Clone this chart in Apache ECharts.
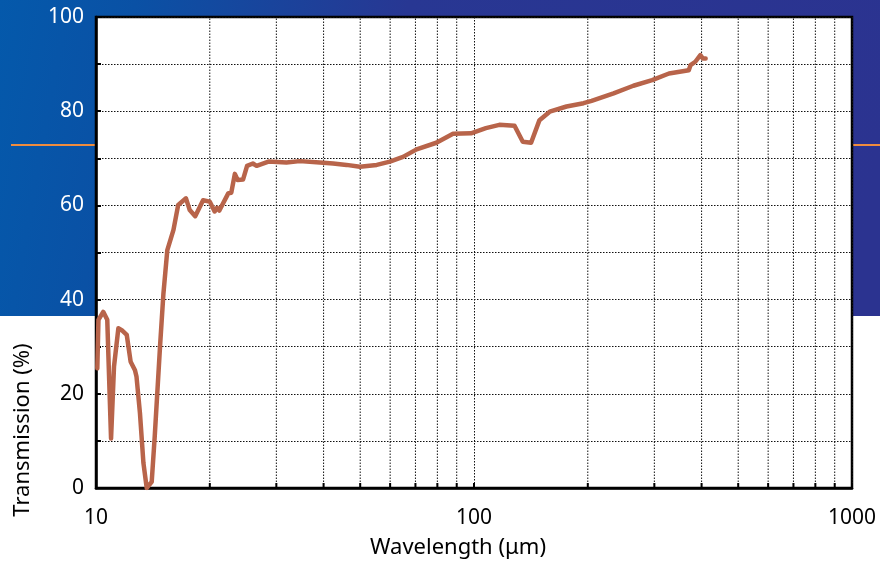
<!DOCTYPE html>
<html>
<head>
<meta charset="utf-8">
<script src="https://cdn.jsdelivr.net/npm/echarts@6/dist/echarts.min.js"></script>
<style>
html,body{margin:0;padding:0;background:#fff;}
#chart{width:880px;height:562px;}
</style>
</head>
<body>
<div id="chart"></div>
<script>
// Wavelength in micrometres (log x axis)
var wavelength = [10.08, 10.15, 10.45, 10.71, 10.96, 11.16, 11.46, 11.7, 12.06, 12.35, 12.68, 12.8, 13.07, 13.35, 13.62, 14.04, 14.3, 14.77, 15.08, 15.44, 16.03, 16.5, 17.3, 17.7, 18.3, 19.2, 20.0, 20.6, 20.9, 21.2, 22.4, 22.8, 23.3, 23.7, 24.5, 25.1, 26.0, 26.6, 28.6, 31.9, 34.6, 39.1, 42.4, 46.0, 49.9, 55.3, 59.9, 64.9, 70.5, 79.5, 88.0, 98.2, 107.5, 116.7, 128.0, 134.6, 141.6, 149.0, 158.6, 175.7, 194.9, 204.7, 234, 264, 296, 328, 370, 374, 385, 397, 403, 410];
// Transmission in %
var transmission = [25.4, 35.7, 37.4, 35.7, 10.5, 25.8, 33.9, 33.5, 32.5, 26.8, 25.0, 23.6, 15.9, 5.3, 0.0, 1.3, 10.9, 30.0, 41.3, 50.5, 54.8, 60.1, 61.5, 59.0, 57.7, 61.1, 60.8, 58.7, 59.5, 58.9, 62.6, 62.7, 66.7, 65.4, 65.5, 68.4, 68.9, 68.4, 69.3, 69.1, 69.4, 69.1, 68.9, 68.6, 68.2, 68.6, 69.3, 70.3, 71.9, 73.3, 75.2, 75.3, 76.4, 77.1, 76.9, 73.5, 73.3, 78.1, 79.9, 81.0, 81.7, 82.2, 83.8, 85.4, 86.6, 88.0, 88.7, 89.8, 90.5, 91.9, 91.2, 91.2];
// Minor log grid positions
var minorGrid = [20, 30, 40, 50, 60, 70, 80, 90, 200, 300, 400, 500, 600, 700, 800, 900];
var xTickLabels = [10, 100, 1000];
var yTickLabels = [0, 20, 40, 60, 80, 100];

var FONT = '"Noto Sans", "Open Sans", sans-serif';
var GRID_DASH = [1.5, 1.5];
var GRID_COLOR = '#111';
var chart = echarts.init(document.getElementById('chart'));
var pts = wavelength.map(function (w, i) { return [w, transmission[i]]; });

var option = {
  backgroundColor: '#ffffff',
  animation: false,
  graphic: [
    {
      type: 'rect', z: -10, silent: true,
      shape: { x: 0, y: 0, width: 880, height: 316 },
      style: {
        fill: new echarts.graphic.LinearGradient(0, 0, 1, 0.5, [
          { offset: 0, color: '#0459ab' },
          { offset: 0.15, color: '#0a51a5' },
          { offset: 0.45, color: '#283793' },
          { offset: 1, color: '#2b3390' }
        ])
      }
    },
    { type: 'line', z: -5, silent: true, shape: { x1: 11, y1: 145, x2: 96, y2: 145 }, style: { stroke: '#f08c3e', lineWidth: 2 } },
    { type: 'line', z: -5, silent: true, shape: { x1: 852, y1: 145, x2: 880, y2: 145 }, style: { stroke: '#f08c3e', lineWidth: 2 } },
    {
      type: 'text', silent: true, x: 23, y: 430, rotation: Math.PI / 2,
      style: { text: 'Transmission (%)', font: '22px ' + FONT, fill: '#000', textAlign: 'center', textVerticalAlign: 'middle' }
    }
  ],
  grid: {
    left: 96, right: 28, top: 17, bottom: 74,
    outerBoundsMode: 'none', containLabel: false,
    show: true, backgroundColor: '#ffffff', borderColor: '#000', borderWidth: 2.5
  },
  xAxis: {
    type: 'log', logBase: 10, min: 10, max: 1000, z: 3,
    name: 'Wavelength (\u03bcm)', nameLocation: 'middle', nameGap: 49,
    nameTextStyle: { color: '#000', fontSize: 22, fontFamily: FONT, padding: [0, 32, 0, 0] },
    axisLine: { show: true, lineStyle: { color: '#000', width: 2.5 } },
    axisTick: { show: true, inside: true, length: 5, lineStyle: { color: '#000', width: 2 } },
    axisLabel: {
      color: '#000', fontSize: 21, fontFamily: FONT, margin: 20,
      formatter: function (v) { return xTickLabels.indexOf(Math.round(v)) >= 0 ? String(Math.round(v)) : ''; }
    },
    splitLine: { show: true, lineStyle: { color: GRID_COLOR, type: GRID_DASH, width: 1 } },
    minorTick: { show: false }
  },
  yAxis: {
    type: 'value', min: 0, max: 100, interval: 10, z: 3,
    axisLine: { show: true, lineStyle: { color: '#000', width: 2.5 } },
    axisTick: { show: true, inside: true, length: 5, lineStyle: { color: '#000', width: 2 } },
    axisLabel: {
      fontSize: 21, fontFamily: FONT, margin: 12,
      color: function (v) { return Number(v) >= 40 ? '#ffffff' : '#000000'; },
      formatter: function (v) { return yTickLabels.indexOf(v) >= 0 ? String(v) : ''; }
    },
    splitLine: { show: true, lineStyle: { color: GRID_COLOR, type: GRID_DASH, width: 1 } }
  },
  series: [
    {
      type: 'custom', coordinateSystem: 'cartesian2d', silent: true, z: 2,
      data: minorGrid.map(function (v) { return [v, 0]; }),
      encode: { x: 0, y: 1 },
      renderItem: function (params, api) {
        var x = api.value(0);
        var p0 = api.coord([x, 0]);
        var p1 = api.coord([x, 100]);
        return {
          type: 'group',
          children: [
            { type: 'line', shape: { x1: p0[0], y1: p0[1], x2: p1[0], y2: p1[1] },
              style: { stroke: GRID_COLOR, lineWidth: 1, lineDash: GRID_DASH } },
            { type: 'line', shape: { x1: p0[0], y1: p0[1], x2: p0[0], y2: p0[1] - 5 },
              style: { stroke: '#000', lineWidth: 2 } }
          ]
        };
      }
    },
    {
      type: 'line', data: pts, showSymbol: false, symbol: 'none', z: 5,
      lineStyle: { color: '#b8644a', width: 4.5, join: 'round', cap: 'round' }
    }
  ]
};
chart.setOption(option);
</script>
</body>
</html>
